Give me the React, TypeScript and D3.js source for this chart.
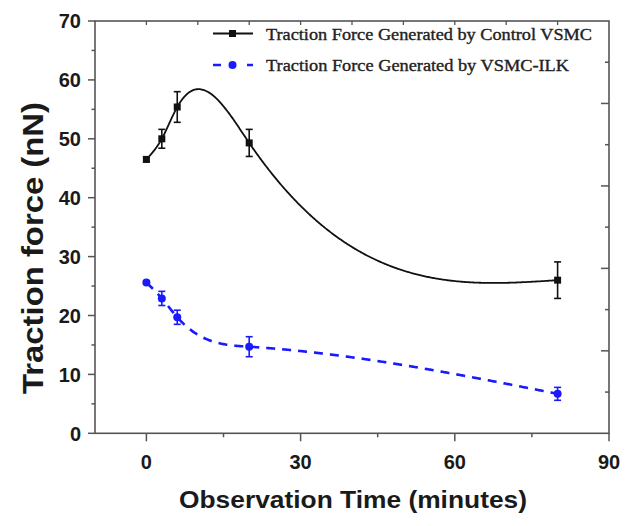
import React from "react";
import * as d3 from "d3";

const times = [0, 3, 6, 20, 80];
const controlForce = [46.5, 50.0, 55.4, 49.3, 26.0];
const controlErr = [0.4, 1.6, 2.6, 2.3, 3.1];
const ilkForce = [25.6, 22.9, 19.7, 14.7, 6.7];
const ilkErr = [0.3, 1.2, 1.2, 1.7, 1.1];
const xTicks = [0, 30, 60, 90];
const xMinor = [15, 45, 75];
const yTicks = [0, 10, 20, 30, 40, 50, 60, 70];
const yMinor = [5, 15, 25, 35, 45, 55, 65];
const legendLabels = [
  "Traction Force Generated by Control VSMC",
  "Traction Force Generated by VSMC-ILK",
];

// natural cubic spline in x, returns evaluator
function naturalSpline(xs: number[], ys: number[]) {
  const n = xs.length;
  const h: number[] = [];
  for (let i = 0; i < n - 1; i++) h.push(xs[i + 1] - xs[i]);
  const M = new Array(n).fill(0);
  const m = n - 2;
  const a: number[] = [], b: number[] = [], c: number[] = [], d: number[] = [];
  for (let i = 1; i <= m; i++) {
    a.push(h[i - 1]);
    b.push(2 * (h[i - 1] + h[i]));
    c.push(h[i]);
    d.push(6 * ((ys[i + 1] - ys[i]) / h[i] - (ys[i] - ys[i - 1]) / h[i - 1]));
  }
  for (let i = 1; i < m; i++) {
    const w = a[i] / b[i - 1];
    b[i] -= w * c[i - 1];
    d[i] -= w * d[i - 1];
  }
  const sol = new Array(m).fill(0);
  for (let i = m - 1; i >= 0; i--) {
    sol[i] = (d[i] - (i < m - 1 ? c[i] * sol[i + 1] : 0)) / b[i];
  }
  for (let i = 0; i < m; i++) M[i + 1] = sol[i];
  return (x: number) => {
    let i = 0;
    while (i < n - 2 && x > xs[i + 1]) i++;
    const hi = h[i];
    const t1 = xs[i + 1] - x;
    const t0 = x - xs[i];
    return (
      (M[i] * t1 * t1 * t1) / (6 * hi) +
      (M[i + 1] * t0 * t0 * t0) / (6 * hi) +
      (ys[i] / hi - (M[i] * hi) / 6) * t1 +
      (ys[i + 1] / hi - (M[i + 1] * hi) / 6) * t0
    );
  };
}

export default function App() {
  const W = 632, H = 526;
  const x = d3.scaleLinear().domain([-10, 90]).range([95, 609]);
  const y = d3.scaleLinear().domain([0, 70]).range([433.3, 21]);
  const axisColor = "#555";
  const tickFont = "'Liberation Sans', Arial, sans-serif";
  const serif = "'Liberation Serif', 'Times New Roman', serif";

  const line = d3
    .line<[number, number]>()
    .x((p) => x(p[0]))
    .y((p) => y(p[1]));

  const sample = (ys: number[]) => {
    const f = naturalSpline(times, ys);
    const pts: [number, number][] = [];
    const lo = times[0], hi = times[times.length - 1];
    const N = 400;
    for (let k = 0; k <= N; k++) {
      const xv = lo + ((hi - lo) * k) / N;
      pts.push([xv, f(xv)]);
    }
    return pts;
  };

  const ctrlPath = line(sample(controlForce)) || "";
  const ilkPath = line(sample(ilkForce)) || "";

  const rightMinor = d3.range(7, 70, 14);
  const rightMajor = d3.range(14, 70, 14);
  const topTicks = d3.range(0, 90, 10);

  const errBars = (vals: number[], errs: number[], color: string) =>
    times.map((t, i) => {
      const cx = x(t);
      const y1 = y(vals[i] + errs[i]);
      const y0 = y(vals[i] - errs[i]);
      return (
        <g key={"e" + i} stroke={color} strokeWidth={1.6}>
          <line x1={cx} x2={cx} y1={y1} y2={y0} />
          <line x1={cx - 3.5} x2={cx + 3.5} y1={y1} y2={y1} />
          <line x1={cx - 3.5} x2={cx + 3.5} y1={y0} y2={y0} />
        </g>
      );
    });

  return (
    <svg
      width={W}
      height={H}
      style={{ position: "absolute", left: 0, top: 0, background: "#fff" }}
    >
      <rect x={0} y={0} width={W} height={H} fill="#fff" />
      {/* frame */}
      <rect
        x={x(-10)}
        y={y(70)}
        width={x(90) - x(-10)}
        height={y(0) - y(70)}
        fill="none"
        stroke={axisColor}
        strokeWidth={1.6}
      />
      {/* left ticks */}
      {yTicks.map((v) => (
        <line key={"yt" + v} x1={x(-10) - 7} x2={x(-10)} y1={y(v)} y2={y(v)} stroke={axisColor} strokeWidth={1.5} />
      ))}
      {yMinor.map((v) => (
        <line key={"ym" + v} x1={x(-10) - 3.5} x2={x(-10)} y1={y(v)} y2={y(v)} stroke={axisColor} strokeWidth={1.5} />
      ))}
      {/* bottom ticks */}
      {xTicks.map((v) => (
        <line key={"xt" + v} x1={x(v)} x2={x(v)} y1={y(0)} y2={y(0) + 8} stroke={axisColor} strokeWidth={1.5} />
      ))}
      {xMinor.map((v) => (
        <line key={"xm" + v} x1={x(v)} x2={x(v)} y1={y(0)} y2={y(0) + 4} stroke={axisColor} strokeWidth={1.5} />
      ))}
      {/* top ticks */}
      {topTicks.map((v) => (
        <line key={"tt" + v} x1={x(v)} x2={x(v)} y1={y(70)} y2={y(70) + 4} stroke={axisColor} strokeWidth={1.3} />
      ))}
      {/* right ticks */}
      {rightMajor.map((v) => (
        <line key={"rt" + v} x1={x(90) - 8} x2={x(90)} y1={y(v)} y2={y(v)} stroke={axisColor} strokeWidth={1.5} />
      ))}
      {rightMinor.map((v) => (
        <line key={"rm" + v} x1={x(90) - 4} x2={x(90)} y1={y(v)} y2={y(v)} stroke={axisColor} strokeWidth={1.5} />
      ))}
      {/* tick labels */}
      {yTicks.map((v) => (
        <text
          key={"yl" + v}
          x={81}
          y={y(v)}
          dy="0.36em"
          textAnchor="end"
          fontFamily={tickFont}
          fontWeight="bold"
          fontSize={20}
          fill="#1a1a1a"
        >
          {v}
        </text>
      ))}
      {xTicks.map((v) => (
        <text
          key={"xl" + v}
          x={x(v)}
          y={469}
          textAnchor="middle"
          fontFamily={tickFont}
          fontWeight="bold"
          fontSize={20}
          fill="#1a1a1a"
        >
          {v}
        </text>
      ))}
      {/* axis titles */}
      <text
        x={353}
        y={508}
        textAnchor="middle"
        fontFamily={tickFont}
        fontWeight="bold"
        fontSize={24}
        textLength={348}
        lengthAdjust="spacingAndGlyphs"
        fill="#1a1a1a"
      >
        Observation Time (minutes)
      </text>
      <text
        transform="translate(43,248) rotate(-90)"
        textAnchor="middle"
        fontFamily={tickFont}
        fontWeight="bold"
        fontSize={29}
        textLength={292}
        lengthAdjust="spacingAndGlyphs"
        fill="#1a1a1a"
      >
        Traction force (nN)
      </text>

      {/* series */}
      <path d={ctrlPath} fill="none" stroke="#111" strokeWidth={1.8} />
      <path d={ilkPath} fill="none" stroke="#1a1aff" strokeWidth={2.6} strokeDasharray="9,7" />
      {errBars(controlForce, controlErr, "#111")}
      {errBars(ilkForce, ilkErr, "#1a1aff")}
      {times.map((t, i) => (
        <rect key={"cm" + i} x={x(t) - 3.5} y={y(controlForce[i]) - 3.5} width={7} height={7} fill="#111" />
      ))}
      {times.map((t, i) => (
        <circle key={"im" + i} cx={x(t)} cy={y(ilkForce[i])} r={4} fill="#1a1aff" />
      ))}

      {/* legend */}
      <line x1={213} x2={253} y1={33.5} y2={33.5} stroke="#111" strokeWidth={1.8} />
      <rect x={229} y={30} width={7} height={7} fill="#111" />
      <text
        x={266}
        y={39.5}
        fontFamily={serif}
        fontSize={16}
        textLength={326}
        lengthAdjust="spacingAndGlyphs"
        fill="#222"
        stroke="#222"
        strokeWidth={0.35}
      >
        {legendLabels[0]}
      </text>
      <line x1={213} x2={253} y1={65} y2={65} stroke="#1a1aff" strokeWidth={2.6} strokeDasharray="8,26" />
      <circle cx={232.5} cy={65} r={4} fill="#1a1aff" />
      <text
        x={266}
        y={71}
        fontFamily={serif}
        fontSize={16}
        textLength={303}
        lengthAdjust="spacingAndGlyphs"
        fill="#222"
        stroke="#222"
        strokeWidth={0.35}
      >
        {legendLabels[1]}
      </text>
    </svg>
  );
}
